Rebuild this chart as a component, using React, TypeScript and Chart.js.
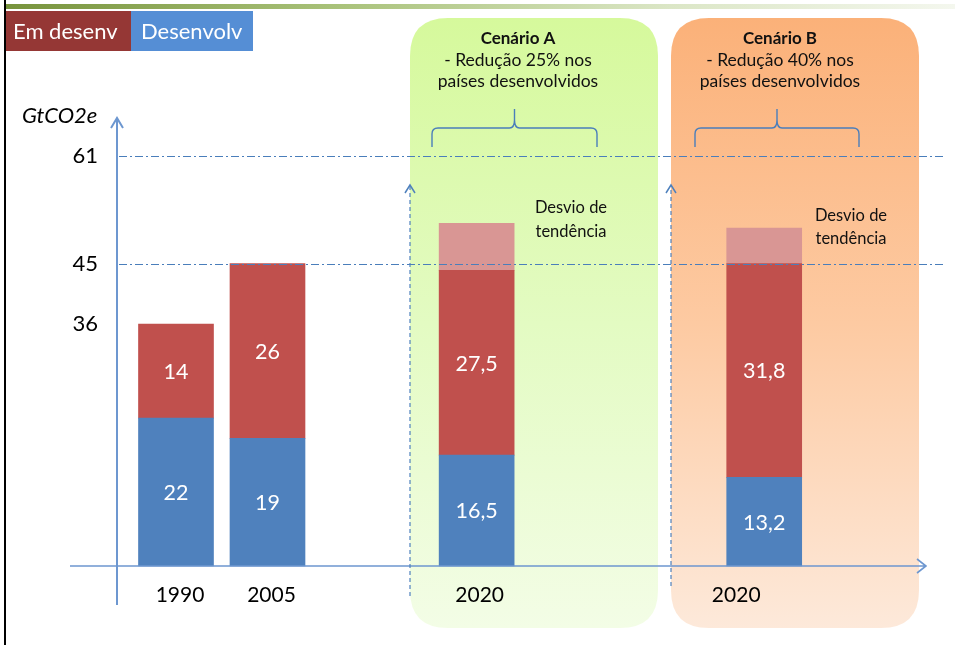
import React, { useEffect, useRef } from 'react';
import { Chart, registerables } from 'chart.js';

Chart.register(...registerables);

// ---------- data ----------
const categories = ['1990', '2005', '2020', '2020'];
const desenvolvidos = [22, 19, 16.5, 13.2];
const emDesenvolvimento = [14, 26, 27.5, 31.8];
const desvioTendencia: (number | null)[] = [null, null, 7, 5.3];
const yTickValues = [36, 45, 61];
const referenceLines = [61, 45];
const legendLabels = ['Em desenv', 'Desenvolv'];
const scenarioTitles = ['Cenário A', 'Cenário B'];
const scenarioLines = [
  ['- Redução 25% nos', 'países desenvolvidos'],
  ['- Redução 40% nos', 'países desenvolvidos'],
];
const desvioLabel = ['Desvio de', 'tendência'];
const yUnit = 'GtCO2e';

// ---------- layout ----------
const W = 955;
const H = 645;
const SLOT_COUNT = 46;
const slotIndex = [0, 7, 23, 45];
const labelDx = [4, 4, 3, -28];
const FONT = 'Lato, "Open Sans", sans-serif';
const BLUE = '#4f81bd';
const RED = '#c0504d';
const PINK = '#d99694';
const AXIS = '#6d97d0';
const LINE = '#4a7ebb';

function toSlots(values: (number | null)[]) {
  const arr: (number | null)[] = new Array(SLOT_COUNT).fill(null);
  values.forEach((v, i) => {
    arr[slotIndex[i]] = v;
  });
  return arr;
}

const slotLabels = (() => {
  const arr: string[] = new Array(SLOT_COUNT).fill('');
  categories.forEach((c, i) => (arr[slotIndex[i]] = c));
  return arr;
})();

function roundRect(ctx: CanvasRenderingContext2D, x: number, y: number, w: number, h: number, r: number) {
  ctx.beginPath();
  ctx.moveTo(x + r, y);
  ctx.lineTo(x + w - r, y);
  ctx.quadraticCurveTo(x + w, y, x + w, y + r);
  ctx.lineTo(x + w, y + h - r);
  ctx.quadraticCurveTo(x + w, y + h, x + w - r, y + h);
  ctx.lineTo(x + r, y + h);
  ctx.quadraticCurveTo(x, y + h, x, y + h - r);
  ctx.lineTo(x, y + r);
  ctx.quadraticCurveTo(x, y, x + r, y);
  ctx.closePath();
}

function drawBrace(ctx: CanvasRenderingContext2D, x1: number, x2: number, yTip: number, yMid: number, yEnd: number) {
  const xm = (x1 + x2) / 2;
  ctx.save();
  ctx.strokeStyle = LINE;
  ctx.lineWidth = 1.4;
  ctx.beginPath();
  ctx.moveTo(x1, yEnd);
  ctx.lineTo(x1, yMid + 6);
  ctx.quadraticCurveTo(x1, yMid, x1 + 6, yMid);
  ctx.lineTo(xm - 5, yMid);
  ctx.quadraticCurveTo(xm, yMid, xm, yMid - 8);
  ctx.lineTo(xm, yTip);
  ctx.moveTo(xm, yMid - 8);
  ctx.quadraticCurveTo(xm, yMid, xm + 5, yMid);
  ctx.lineTo(x2 - 6, yMid);
  ctx.quadraticCurveTo(x2, yMid, x2, yMid + 6);
  ctx.lineTo(x2, yEnd);
  ctx.stroke();
  ctx.restore();
}

function drawDashedArrow(ctx: CanvasRenderingContext2D, x: number, yTop: number, yBottom: number) {
  ctx.save();
  ctx.strokeStyle = BLUE;
  ctx.lineWidth = 1.2;
  ctx.setLineDash([4, 3]);
  ctx.beginPath();
  ctx.moveTo(x, yBottom);
  ctx.lineTo(x, yTop + 1);
  ctx.stroke();
  ctx.setLineDash([]);
  ctx.lineWidth = 1.5;
  ctx.beginPath();
  ctx.moveTo(x - 5, yTop + 8);
  ctx.lineTo(x, yTop);
  ctx.lineTo(x + 5, yTop + 8);
  ctx.stroke();
  ctx.restore();
}

const slidePlugin = {
  id: 'slideDecor',
  beforeDraw(chart: any) {
    const ctx: CanvasRenderingContext2D = chart.ctx;
    ctx.save();
    ctx.fillStyle = '#ffffff';
    ctx.fillRect(0, 0, W, H);

    // top green bar
    const g = ctx.createLinearGradient(6, 0, W, 0);
    g.addColorStop(0, '#77933c');
    g.addColorStop(0.35, '#a9c27a');
    g.addColorStop(0.7, '#dbe6c6');
    g.addColorStop(1, '#f4f7ee');
    ctx.fillStyle = g;
    ctx.fillRect(6, 4, W - 6, 5);

    // left black line
    ctx.fillStyle = '#000000';
    ctx.fillRect(4, 0, 2, H);

    // scenario boxes
    const boxes = [
      { x: 410, stops: ['#d6f99c', '#e3fbc2', '#f3fde6'] },
      { x: 671, stops: ['#fbb179', '#fdcaa2', '#fde9da'] },
    ];
    boxes.forEach((b) => {
      const gr = ctx.createLinearGradient(0, 18, 0, 628);
      gr.addColorStop(0, b.stops[0]);
      gr.addColorStop(0.5, b.stops[1]);
      gr.addColorStop(1, b.stops[2]);
      ctx.fillStyle = gr;
      roundRect(ctx, b.x, 18, 248, 610, 38);
      ctx.fill();
    });

    // legend boxes
    ctx.fillStyle = '#953735';
    ctx.fillRect(6, 11, 125, 40);
    ctx.fillStyle = '#558ed5';
    ctx.fillRect(131, 11, 122, 40);
    ctx.fillStyle = '#ffffff';
    ctx.font = `22px ${FONT}`;
    ctx.textBaseline = 'alphabetic';
    ctx.textAlign = 'left';
    ctx.fillText(legendLabels[0], 13, 39);
    ctx.fillText(legendLabels[1], 141, 39);

    // scenario texts
    const centers = [518, 780];
    ctx.fillStyle = '#111111';
    ctx.textAlign = 'center';
    ctx.textBaseline = 'middle';
    centers.forEach((cx, i) => {
      ctx.font = `bold 17px ${FONT}`;
      ctx.fillText(scenarioTitles[i], cx, 39);
      ctx.font = `17.5px ${FONT}`;
      ctx.fillText(scenarioLines[i][0], cx, 60);
      ctx.fillText(scenarioLines[i][1], cx, 81);
    });

    // desvio texts
    ctx.font = `16.5px ${FONT}`;
    ctx.fillText(desvioLabel[0], 571, 208);
    ctx.fillText(desvioLabel[1], 571, 232);
    ctx.fillText(desvioLabel[0], 851, 216);
    ctx.fillText(desvioLabel[1], 851, 239);

    // unit label
    ctx.font = `italic 22px ${FONT}`;
    ctx.textAlign = 'left';
    ctx.fillStyle = '#000000';
    ctx.fillText(yUnit, 22, 116);
    ctx.restore();
  },
  afterDatasetsDraw(chart: any) {
    const ctx: CanvasRenderingContext2D = chart.ctx;
    const yScale = chart.scales.y;
    const xScale = chart.scales.x;
    ctx.save();

    // reference dash-dot lines
    ctx.strokeStyle = LINE;
    ctx.lineWidth = 1;
    ctx.setLineDash([8, 3, 2, 3]);
    referenceLines.forEach((v) => {
      const y = Math.round(yScale.getPixelForValue(v)) + 0.5;
      ctx.beginPath();
      ctx.moveTo(119, y);
      ctx.lineTo(945, y);
      ctx.stroke();
    });
    ctx.setLineDash([]);

    // axes
    const base = yScale.getPixelForValue(0);
    ctx.strokeStyle = AXIS;
    ctx.lineWidth = 2;
    ctx.beginPath();
    ctx.moveTo(117, 605);
    ctx.lineTo(117, 119);
    ctx.moveTo(111, 128);
    ctx.lineTo(117, 118);
    ctx.lineTo(123, 128);
    ctx.stroke();
    ctx.lineWidth = 1.6;
    ctx.beginPath();
    ctx.moveTo(70, base);
    ctx.lineTo(925, base);
    ctx.moveTo(917, base - 7);
    ctx.lineTo(926, base);
    ctx.lineTo(917, base + 7);
    ctx.stroke();

    // dashed vertical arrows
    drawDashedArrow(ctx, 410, 185, 596);
    drawDashedArrow(ctx, 671, 185, 586);

    // braces
    drawBrace(ctx, 432, 597, 109, 128, 147);
    drawBrace(ctx, 695, 859, 109, 128, 147);

    // value labels inside bars
    ctx.fillStyle = '#ffffff';
    ctx.font = `21.5px ${FONT}`;
    ctx.textAlign = 'center';
    ctx.textBaseline = 'middle';
    [0, 1].forEach((di) => {
      const meta = chart.getDatasetMeta(di);
      const data = chart.data.datasets[di].data;
      meta.data.forEach((el: any, idx: number) => {
        const v = data[idx];
        if (v === null || v === undefined) return;
        const p = el.getProps(['x', 'y', 'base'], true);
        ctx.fillText(String(v).replace('.', ','), p.x, (p.y + p.base) / 2 + 1);
      });
    });

    // x labels
    ctx.fillStyle = '#000000';
    ctx.font = `21px ${FONT}`;
    categories.forEach((c, i) => {
      const x = xScale.getPixelForValue(slotIndex[i]);
      ctx.fillText(c, x + labelDx[i], 595);
    });

    // y labels
    ctx.font = `22px ${FONT}`;
    ctx.textAlign = 'right';
    yTickValues.forEach((v) => {
      ctx.fillText(String(v), 98, yScale.getPixelForValue(v));
    });
    ctx.restore();
  },
};

export default function App() {
  const ref = useRef<HTMLCanvasElement | null>(null);
  useEffect(() => {
    if (!ref.current) return;
    const common = { barThickness: 75, clip: false as const, borderWidth: 0 };
    const chart = new Chart(ref.current, {
      type: 'bar',
      data: {
        labels: slotLabels,
        datasets: [
          { label: 'Desenvolvidos', data: toSlots(desenvolvidos), backgroundColor: BLUE, ...common },
          { label: 'Em desenvolvimento', data: toSlots(emDesenvolvimento), backgroundColor: RED, ...common },
          { label: 'Desvio de tendência', data: toSlots(desvioTendencia), backgroundColor: PINK, ...common },
        ],
      },
      options: {
        responsive: false,
        animation: false,
        devicePixelRatio: 1,
        layout: { padding: { left: 169.46, right: 184.25, top: 95.6, bottom: 79 } },
        plugins: { legend: { display: false }, tooltip: { enabled: false } },
        scales: {
          x: { type: 'category', display: false, stacked: true, offset: true },
          y: { display: false, stacked: true, min: 0, max: 70 },
        },
      },
      plugins: [slidePlugin],
    });
    return () => chart.destroy();
  }, []);
  return (
    <div style={{ position: 'fixed', left: 0, top: 0, width: W, height: H }}>
      <canvas ref={ref} width={W} height={H} style={{ width: W, height: H, display: 'block' }} />
    </div>
  );
}
